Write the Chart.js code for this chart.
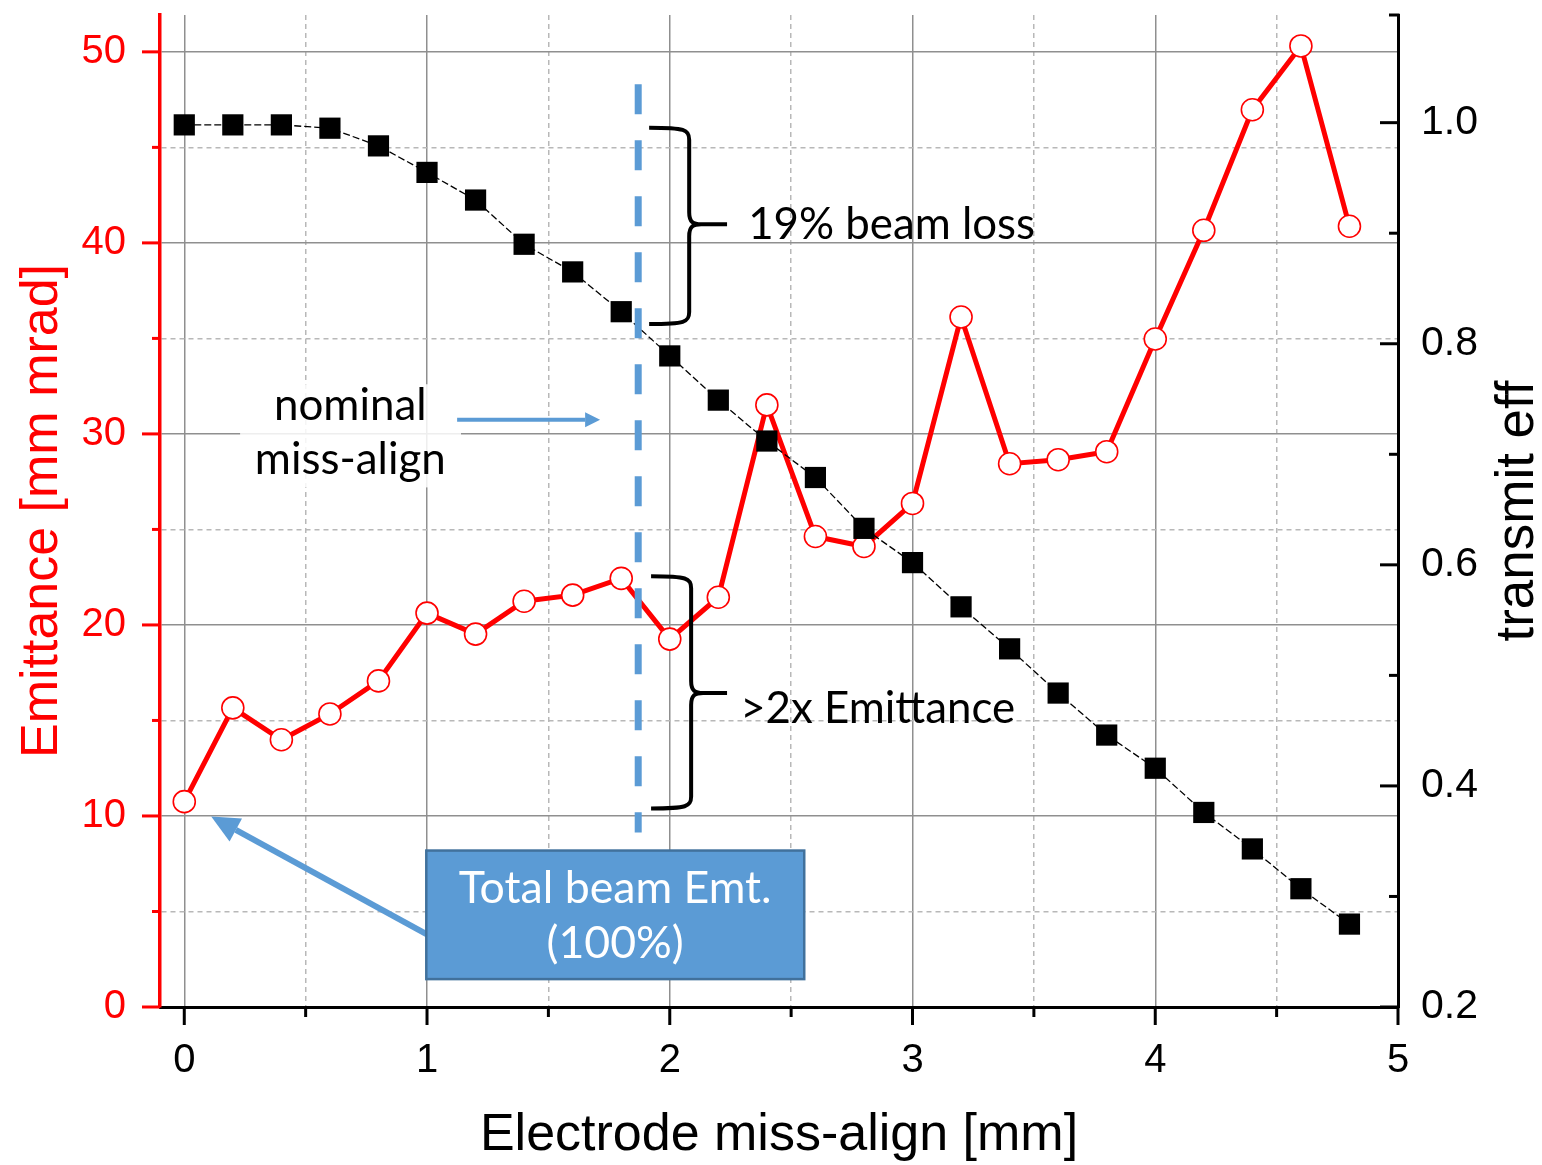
<!DOCTYPE html>
<html>
<head>
<meta charset="utf-8">
<title>Emittance vs electrode miss-align</title>
<script src="https://cdn.jsdelivr.net/npm/chart.js@4/dist/chart.umd.min.js"></script>
<style>
  html, body { margin: 0; padding: 0; background: #fff; }
  #wrap { width: 1542px; height: 1165px; }
</style>
</head>
<body>
<div id="wrap"><canvas id="chart" width="1542" height="1165"></canvas></div>
<script>
// --- data ---
const misalign = [0, 0.2, 0.4, 0.6, 0.8, 1.0, 1.2, 1.4, 1.6, 1.8, 2.0, 2.2, 2.4,
                  2.6, 2.8, 3.0, 3.2, 3.4, 3.6, 3.8, 4.0, 4.2, 4.4, 4.6, 4.8];
const emittance = [10.75, 15.66, 13.99, 15.34, 17.07, 20.62, 19.52, 21.24, 21.56, 22.44,
                   19.26, 21.45, 31.52, 24.63, 24.11, 26.36, 36.12, 28.44, 28.65, 29.07,
                   34.97, 40.66, 46.97, 50.31, 40.87];
const transmission = [0.998, 0.998, 0.998, 0.995, 0.979, 0.955, 0.930, 0.890, 0.865, 0.829,
                      0.789, 0.749, 0.712, 0.679, 0.633, 0.602, 0.562, 0.524, 0.484, 0.446,
                      0.416, 0.376, 0.343, 0.307, 0.275];

const xTicks = [0, 0.5, 1, 1.5, 2, 2.5, 3, 3.5, 4, 4.5, 5];
const emitTicks = [0, 5, 10, 15, 20, 25, 30, 35, 40, 45, 50];
const transTicks = [0.2, 0.3, 0.4, 0.5, 0.6, 0.7, 0.8, 0.9, 1.0];

// annotation anchors, in data units (x: mm, y: left axis)
const nominalX = 1.87;
const nominalSpan = [48.3, 9.13];
const lossBrace = { xL: 1.915, xV: 2.08, xT: 2.236, top: 46.03, mid: 40.97, bot: 35.75 };
const emitBrace = { xL: 1.923, xV: 2.088, xT: 2.236, top: 22.55, mid: 16.44, bot: 10.39 };
const totalBox = { x1: 0.997, x2: 2.554, y1: 8.19, y2: 1.46 };

const RED = '#ff0000';
const BLUE = '#5b9bd5';
const GRID_MAJOR = '#8f8f8f';
const GRID_MINOR = '#b8b8b8';
const AXIS_FONT = '"Liberation Sans", Arial, sans-serif';
const NOTE_FONT = 'Lato, "Open Sans", sans-serif';

const isMajorX = v => Math.abs(v - Math.round(v)) < 1e-6;
const isMajorY = v => Math.abs(v / 10 - Math.round(v / 10)) < 1e-6;
const isMajorR = v => Math.round(v * 10) % 2 === 0;

function fitFont(ctx, text, width) {
    ctx.font = '40px ' + NOTE_FONT;
    return 40 * width / ctx.measureText(text).width;
}

function arrow(ctx, x1, y1, x2, y2, w, headLen, headW) {
    const a = Math.atan2(y2 - y1, x2 - x1);
    const bx = x2 - Math.cos(a) * headLen, by = y2 - Math.sin(a) * headLen;
    ctx.save();
    ctx.strokeStyle = BLUE;
    ctx.fillStyle = BLUE;
    ctx.lineWidth = w;
    ctx.beginPath();
    ctx.moveTo(x1, y1);
    ctx.lineTo(bx, by);
    ctx.stroke();
    ctx.beginPath();
    ctx.moveTo(x2, y2);
    ctx.lineTo(bx + Math.sin(a) * headW / 2, by - Math.cos(a) * headW / 2);
    ctx.lineTo(bx - Math.sin(a) * headW / 2, by + Math.cos(a) * headW / 2);
    ctx.closePath();
    ctx.fill();
    ctx.restore();
}

function brace(ctx, sx, sy, b) {
    const xL = sx(b.xL), xV = sx(b.xV), xT = sx(b.xT);
    const yT = sy(b.top), yM = sy(b.mid), yB = sy(b.bot);
    const r = 12;
    ctx.save();
    ctx.strokeStyle = '#000';
    ctx.lineWidth = 4;
    ctx.lineJoin = 'round';
    ctx.beginPath();
    ctx.moveTo(xL, yT);
    ctx.bezierCurveTo(xV - 4, yT, xV, yT + 2, xV, yT + r);
    ctx.lineTo(xV, yM - r);
    ctx.bezierCurveTo(xV, yM - 2, xV + 4, yM, xV + r, yM);
    ctx.lineTo(xT, yM);
    ctx.moveTo(xV + r, yM);
    ctx.bezierCurveTo(xV + 4, yM, xV, yM + 2, xV, yM + r);
    ctx.lineTo(xV, yB - r);
    ctx.bezierCurveTo(xV, yB - 2, xV - 4, yB, xL, yB);
    ctx.stroke();
    ctx.restore();
}

const decor = {
    id: 'decor',
    afterDatasetsDraw(chart) {
        const ctx = chart.ctx;
        const sx = v => chart.scales.x.getPixelForValue(v);
        const sy = v => chart.scales.y.getPixelForValue(v);

        // nominal miss-align marker
        ctx.save();
        ctx.strokeStyle = BLUE;
        ctx.lineWidth = 7;
        ctx.setLineDash([30, 26]);
        ctx.beginPath();
        ctx.moveTo(sx(nominalX), sy(nominalSpan[0]));
        ctx.lineTo(sx(nominalX), sy(nominalSpan[1]));
        ctx.stroke();
        ctx.restore();

        // label with faded background
        ctx.save();
        ctx.fillStyle = 'rgba(255,255,255,0.85)';
        ctx.fillRect(sx(0.23), sy(32.6), sx(1.14) - sx(0.23), sy(27.2) - sy(32.6));
        let fs = fitFont(ctx, 'miss-align', 191);
        ctx.font = fs + 'px ' + NOTE_FONT;
        ctx.fillStyle = '#000';
        ctx.textAlign = 'center';
        ctx.textBaseline = 'alphabetic';
        ctx.fillText('nominal', sx(0.684), sy(30.74));
        ctx.fillText('miss-align', sx(0.684), sy(27.92));
        ctx.restore();
        arrow(ctx, sx(1.124), sy(30.74), sx(1.713), sy(30.74), 4, 15, 15);

        // braces with notes
        brace(ctx, sx, sy, lossBrace);
        brace(ctx, sx, sy, emitBrace);
        ctx.save();
        ctx.fillStyle = '#000';
        ctx.textAlign = 'left';
        ctx.textBaseline = 'alphabetic';
        fs = fitFont(ctx, '19% beam loss', 287);
        ctx.font = fs + 'px ' + NOTE_FONT;
        ctx.fillText('19% beam loss', sx(2.323), sy(40.19));
        fs = fitFont(ctx, '>2x Emittance', 275);
        ctx.font = fs + 'px ' + NOTE_FONT;
        ctx.fillText('>2x Emittance', sx(2.29), sy(14.87));
        ctx.restore();

        // total beam box + arrow
        arrow(ctx, sx(totalBox.x1) + 2, sy(3.76), sx(0.111), sy(9.97), 6, 28, 26);
        ctx.save();
        const bx = sx(totalBox.x1), by = sy(totalBox.y1);
        const bw = sx(totalBox.x2) - bx, bh = sy(totalBox.y2) - by;
        ctx.fillStyle = BLUE;
        ctx.fillRect(bx, by, bw, bh);
        ctx.strokeStyle = '#41719c';
        ctx.lineWidth = 2.5;
        ctx.strokeRect(bx, by, bw, bh);
        fs = fitFont(ctx, 'Total beam Emt.', 313);
        ctx.font = fs + 'px ' + NOTE_FONT;
        ctx.fillStyle = '#fff';
        ctx.textAlign = 'center';
        ctx.textBaseline = 'alphabetic';
        ctx.fillText('Total beam Emt.', sx(1.775), sy(5.43));
        ctx.fillText('(100%)', sx(1.775), sy(2.56));
        ctx.restore();
    },
    afterDraw(chart) {
        const ctx = chart.ctx;
        const { x, y, y1 } = chart.scales;
        const area = chart.chartArea;
        ctx.save();
        ctx.lineWidth = 3;
        // bottom ticks, outward
        ctx.strokeStyle = '#000';
        xTicks.forEach(v => {
            const px = x.getPixelForValue(v);
            ctx.beginPath();
            ctx.moveTo(px, area.bottom);
            ctx.lineTo(px, area.bottom + (isMajorX(v) ? 18 : 10));
            ctx.stroke();
        });
        // right ticks, inward, plus a small cap at the top end
        transTicks.forEach(v => {
            const py = y1.getPixelForValue(v);
            ctx.beginPath();
            ctx.moveTo(area.right, py);
            ctx.lineTo(area.right - (isMajorR(v) ? 18 : 9), py);
            ctx.stroke();
        });
        ctx.beginPath();
        ctx.moveTo(area.right + 1.5, area.top);
        ctx.lineTo(area.right - 9, area.top);
        ctx.stroke();
        // left ticks, outward, red
        ctx.strokeStyle = RED;
        emitTicks.forEach(v => {
            const py = y.getPixelForValue(v);
            ctx.beginPath();
            ctx.moveTo(area.left, py);
            ctx.lineTo(area.left - (isMajorY(v) ? 18 : 8), py);
            ctx.stroke();
        });
        // right axis title (reads bottom to top)
        ctx.translate(1518, (area.top + area.bottom) / 2);
        ctx.rotate(-Math.PI / 2);
        ctx.fillStyle = '#000';
        ctx.font = '53px ' + AXIS_FONT;
        ctx.textAlign = 'center';
        ctx.textBaseline = 'middle';
        ctx.fillText('transmit eff', 0, 0);
        ctx.restore();
    }
};

const gridColor = major => c => (c.tick ? (major(c.tick.value) ? GRID_MAJOR : GRID_MINOR) : GRID_MAJOR);
const gridDash = major => c => (c.tick && !major(c.tick.value) ? [5, 4] : []);
// fixed box sizes so the plot area matches the figure, no label overhang padding
const fixBox = (w, h) => s => {
    if (w) s.width = w;
    if (h) s.height = h;
    s.paddingTop = 0; s.paddingBottom = 0; s.paddingLeft = 0; s.paddingRight = 0;
};

new Chart(document.getElementById('chart'), {
    type: 'line',
    data: {
        datasets: [
            {
                label: 'transmit eff',
                data: misalign.map((m, i) => ({ x: m, y: transmission[i] })),
                yAxisID: 'y1',
                order: 0,
                borderColor: '#000',
                borderWidth: 1.3,
                borderDash: [7, 3],
                pointStyle: 'rect',
                pointRadius: 15,
                pointBackgroundColor: '#000',
                pointBorderColor: '#000',
                pointBorderWidth: 0,
                tension: 0
            },
            {
                label: 'Emittance',
                data: misalign.map((m, i) => ({ x: m, y: emittance[i] })),
                yAxisID: 'y',
                order: 1,
                borderColor: RED,
                borderWidth: 5,
                pointStyle: 'circle',
                pointRadius: 11,
                pointBackgroundColor: '#fff',
                pointBorderColor: RED,
                pointBorderWidth: 1.6,
                tension: 0
            }
        ]
    },
    options: {
        responsive: false,
        devicePixelRatio: 1,
        animation: false,
        layout: { padding: { top: 12, left: 0, right: 0, bottom: 0 } },
        plugins: { legend: { display: false }, tooltip: { enabled: false } },
        scales: {
            x: {
                type: 'linear',
                min: -0.1,
                max: 5,
                afterBuildTicks: s => { s.ticks = xTicks.map(v => ({ value: v })); },
                afterFit: fixBox(0, 158),
                grid: { color: gridColor(isMajorX), lineWidth: 1.5, drawTicks: false },
                border: { color: '#000', width: 3, dash: gridDash(isMajorX) },
                ticks: {
                    color: '#000',
                    font: { family: AXIS_FONT, size: 40 },
                    padding: 30,
                    maxRotation: 0,
                    autoSkip: false,
                    callback: v => (isMajorX(v) ? String(Math.round(v)) : '')
                },
                title: {
                    display: true,
                    text: 'Electrode miss-align [mm]',
                    color: '#000',
                    font: { family: AXIS_FONT, size: 52 },
                    padding: { top: 0, bottom: -2 }
                }
            },
            y: {
                position: 'left',
                min: 0,
                max: 51.93,
                afterBuildTicks: s => { s.ticks = emitTicks.map(v => ({ value: v })); },
                afterFit: fixBox(160, 0),
                grid: { color: gridColor(isMajorY), lineWidth: 1.5, drawTicks: false },
                border: { color: RED, width: 3.5, dash: gridDash(isMajorY) },
                ticks: {
                    color: RED,
                    font: { family: AXIS_FONT, size: 40 },
                    padding: 34,
                    autoSkip: false,
                    callback: v => (isMajorY(v) ? String(v) : '')
                },
                title: {
                    display: true,
                    text: 'Emittance [mm mrad]',
                    color: RED,
                    font: { family: AXIS_FONT, size: 52 },
                    padding: { top: 11, bottom: 0 }
                }
            },
            y1: {
                position: 'right',
                min: 0.2,
                max: 1.0974,
                afterBuildTicks: s => { s.ticks = transTicks.map(v => ({ value: v })); },
                afterFit: fixBox(144, 0),
                grid: { drawOnChartArea: false, drawTicks: false },
                border: { color: '#000', width: 3 },
                ticks: {
                    color: '#000',
                    font: { family: AXIS_FONT, size: 41 },
                    padding: 23,
                    autoSkip: false,
                    callback: v => (isMajorR(v) ? v.toFixed(1) : '')
                }
            }
        }
    },
    plugins: [decor]
});
</script>
</body>
</html>
